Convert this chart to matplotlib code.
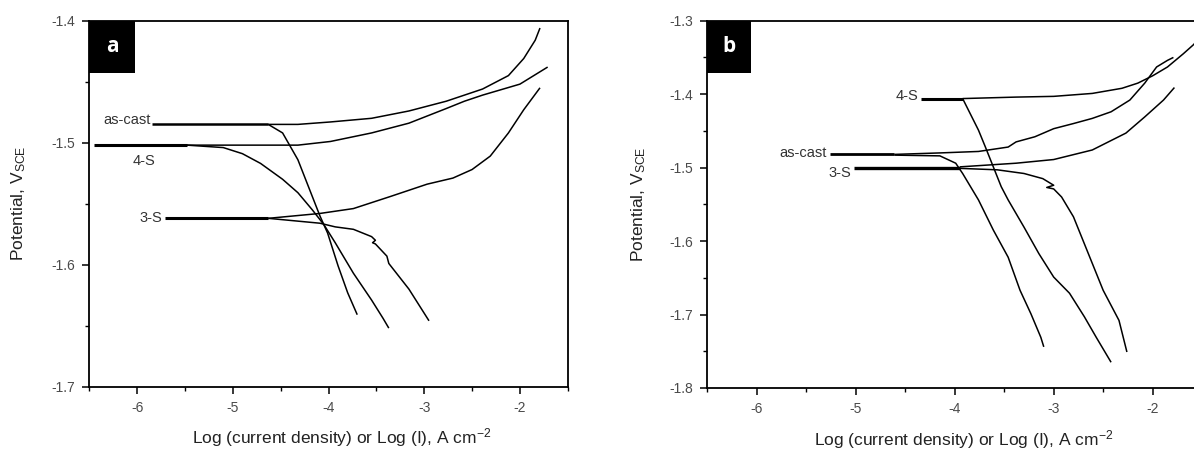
import matplotlib
matplotlib.use("Agg")
import matplotlib.pyplot as plt
from matplotlib.patches import Rectangle
from matplotlib.ticker import MultipleLocator

plt.rcParams['font.family'] = ['Liberation Sans', 'DejaVu Sans']
plt.rcParams['mathtext.default'] = 'regular'
plt.rcParams['axes.unicode_minus'] = False

# ---- panel a: log(i) vs potential ----
a_ascast_flat_x = [-5.85, -4.63]
a_ascast_flat_y = [-1.485, -1.485]
a_ascast_anod_x = [-4.63, -4.32, -3.98, -3.55, -3.16, -2.77, -2.39, -2.12, -1.96, -1.84, -1.79]
a_ascast_anod_y = [-1.485, -1.485, -1.483, -1.480, -1.474, -1.466, -1.456, -1.445, -1.431, -1.416, -1.406]
a_ascast_cath_x = [-4.63, -4.48, -4.40, -4.32, -4.21, -4.09, -4.01, -3.90, -3.80, -3.70]
a_ascast_cath_y = [-1.485, -1.492, -1.503, -1.514, -1.536, -1.560, -1.574, -1.601, -1.623, -1.641]

a_4s_flat_x = [-6.45, -5.48]
a_4s_flat_y = [-1.502, -1.502]
a_4s_anod_x = [-5.48, -4.32, -3.98, -3.55, -3.16, -2.77, -2.58, -2.39, -2.00, -1.71]
a_4s_anod_y = [-1.502, -1.502, -1.499, -1.492, -1.484, -1.472, -1.466, -1.461, -1.452, -1.438]
a_4s_cath_x = [-5.48, -5.10, -4.90, -4.71, -4.48, -4.32, -4.17, -4.05, -3.93, -3.74, -3.55, -3.43, -3.37]
a_4s_cath_y = [-1.502, -1.504, -1.509, -1.517, -1.530, -1.541, -1.555, -1.567, -1.582, -1.607, -1.629, -1.644, -1.652]

a_3s_flat_x = [-5.71, -4.63]
a_3s_flat_y = [-1.562, -1.562]
a_3s_anod_x = [-4.63, -4.09, -3.74, -3.35, -2.97, -2.70, -2.50, -2.31, -2.12, -1.96, -1.79]
a_3s_anod_y = [-1.562, -1.558, -1.554, -1.544, -1.534, -1.529, -1.522, -1.511, -1.492, -1.473, -1.455]
a_3s_cath_x = [-4.63, -4.09, -3.93, -3.74, -3.55, -3.51, -3.54, -3.51, -3.39, -3.37, -3.16, -2.95]
a_3s_cath_y = [-1.562, -1.566, -1.569, -1.571, -1.577, -1.580, -1.582, -1.583, -1.593, -1.599, -1.620, -1.646]

# ---- panel b ----
b_4s_flat_x = [-4.34, -3.92]
b_4s_flat_y = [-1.406, -1.406]
b_4s_anod_x = [-3.92, -3.38, -3.00, -2.61, -2.31, -2.15, -2.00, -1.85, -1.69, -1.59, -1.50]
b_4s_anod_y = [-1.406, -1.404, -1.403, -1.399, -1.392, -1.385, -1.375, -1.363, -1.345, -1.333, -1.320]
b_4s_cath_x = [-3.92, -3.76, -3.69, -3.61, -3.53, -3.46, -3.30, -3.15, -3.00, -2.84, -2.69, -2.57, -2.42]
b_4s_cath_y = [-1.406, -1.449, -1.472, -1.499, -1.526, -1.544, -1.581, -1.617, -1.649, -1.671, -1.703, -1.731, -1.765]

b_ascast_flat_x = [-5.26, -4.61]
b_ascast_flat_y = [-1.482, -1.482]
b_ascast_anod_x = [-4.61, -4.15, -3.76, -3.46, -3.38, -3.19, -3.00, -2.80, -2.61, -2.42, -2.23, -2.08, -1.96, -1.85, -1.79]
b_ascast_anod_y = [-1.482, -1.480, -1.478, -1.472, -1.465, -1.458, -1.447, -1.440, -1.433, -1.424, -1.408, -1.385, -1.363, -1.354, -1.350]
b_ascast_cath_x = [-4.61, -4.15, -3.99, -3.92, -3.76, -3.61, -3.46, -3.34, -3.23, -3.13, -3.10]
b_ascast_cath_y = [-1.483, -1.484, -1.494, -1.508, -1.544, -1.585, -1.622, -1.667, -1.699, -1.731, -1.744]

b_3s_flat_x = [-5.02, -3.95]
b_3s_flat_y = [-1.501, -1.501]
b_3s_anod_x = [-3.95, -3.38, -3.00, -2.61, -2.27, -2.08, -1.89, -1.78]
b_3s_anod_y = [-1.499, -1.494, -1.489, -1.476, -1.453, -1.431, -1.408, -1.391]
b_3s_cath_x = [-3.95, -3.57, -3.30, -3.11, -3.00, -3.07, -3.00, -2.92, -2.80, -2.65, -2.50, -2.34, -2.26]
b_3s_cath_y = [-1.501, -1.503, -1.508, -1.515, -1.524, -1.527, -1.529, -1.540, -1.567, -1.617, -1.667, -1.708, -1.751]

xticks = [-6, -5, -4, -3, -2]
a_yticks = [-1.7, -1.6, -1.5, -1.4]
b_yticks = [-1.8, -1.7, -1.6, -1.5, -1.4, -1.3]

a_labels = [("as-cast", -5.86, -1.481, 'right'), ("4-S", -5.93, -1.515, 'center'), ("3-S", -5.74, -1.562, 'right')]
b_labels = [("4-S", -4.37, -1.403, 'right'), ("as-cast", -5.29, -1.480, 'right'), ("3-S", -5.05, -1.508, 'right')]

xlabel = "Log (current density) or Log (I), A cm$^{-2}$"
ylabel = "Potential, V$_{SCE}$"

fig = plt.figure(figsize=(11.94, 4.5), dpi=100)
ax_a = fig.add_axes([0.0748, 0.1407, 0.4007, 0.8133])
ax_b = fig.add_axes([0.5924, 0.1378, 0.4144, 0.8162])

curves_a = [
    (a_ascast_flat_x, a_ascast_flat_y, 1.8), (a_ascast_anod_x, a_ascast_anod_y, 1.1), (a_ascast_cath_x, a_ascast_cath_y, 1.1),
    (a_4s_flat_x, a_4s_flat_y, 2.2), (a_4s_anod_x, a_4s_anod_y, 1.1), (a_4s_cath_x, a_4s_cath_y, 1.1),
    (a_3s_flat_x, a_3s_flat_y, 2.2), (a_3s_anod_x, a_3s_anod_y, 1.1), (a_3s_cath_x, a_3s_cath_y, 1.1),
]
curves_b = [
    (b_4s_flat_x, b_4s_flat_y, 2.2), (b_4s_anod_x, b_4s_anod_y, 1.1), (b_4s_cath_x, b_4s_cath_y, 1.1),
    (b_ascast_flat_x, b_ascast_flat_y, 2.0), (b_ascast_anod_x, b_ascast_anod_y, 1.1), (b_ascast_cath_x, b_ascast_cath_y, 1.1),
    (b_3s_flat_x, b_3s_flat_y, 2.4), (b_3s_anod_x, b_3s_anod_y, 1.1), (b_3s_cath_x, b_3s_cath_y, 1.1),
]


def style_axes(ax, yticks, ylim, letter, box_w, labels, curves, ylab_x, xlab_x):
    for x, y, lw in curves:
        ax.plot(x, y, color='black', lw=lw, solid_capstyle='butt')
    for txt, x, y, ha in labels:
        ax.text(x, y, txt, ha=ha, va='center', fontsize=10.5, color='#333333')
    ax.set_xlim(-6.5, -1.5)
    ax.set_ylim(*ylim)
    ax.set_xticks(xticks)
    ax.set_xticklabels([str(t) for t in xticks])
    ax.set_yticks(yticks)
    ax.set_yticklabels([f"{t:.1f}" for t in yticks])
    ax.xaxis.set_minor_locator(MultipleLocator(0.5))
    ax.yaxis.set_minor_locator(MultipleLocator(0.05))
    ax.tick_params(which='major', direction='out', length=5, width=1.1,
                   labelsize=10, labelcolor='#4a4a4a', pad=5)
    ax.tick_params(which='minor', direction='out', length=3, width=1.0)
    for s in ax.spines.values():
        s.set_linewidth(1.3)
    ax.set_xlabel(xlabel, fontsize=12.5, color='#222222', va='center')
    ax.set_ylabel(ylabel, fontsize=12.5, color='#222222', va='center')
    ax.xaxis.set_label_coords(xlab_x, -0.14)
    ax.yaxis.set_label_coords(ylab_x, 0.5)
    ax.add_patch(Rectangle((0, 1 - 0.142), box_w, 0.142, transform=ax.transAxes,
                           facecolor='black', edgecolor='none', zorder=5, clip_on=False))
    ax.text(box_w / 2, 1 - 0.071, letter, transform=ax.transAxes, ha='center', va='center',
            color='white', fontsize=15, fontweight='bold', family=['Open Sans', 'DejaVu Sans'], zorder=6)


style_axes(ax_a, a_yticks, (-1.7, -1.4), 'a', 0.096, a_labels, curves_a, -0.147, 0.528)
style_axes(ax_b, b_yticks, (-1.8, -1.3), 'b', 0.089, b_labels, curves_b, -0.138, 0.519)

fig.savefig("out.png", dpi=100)
